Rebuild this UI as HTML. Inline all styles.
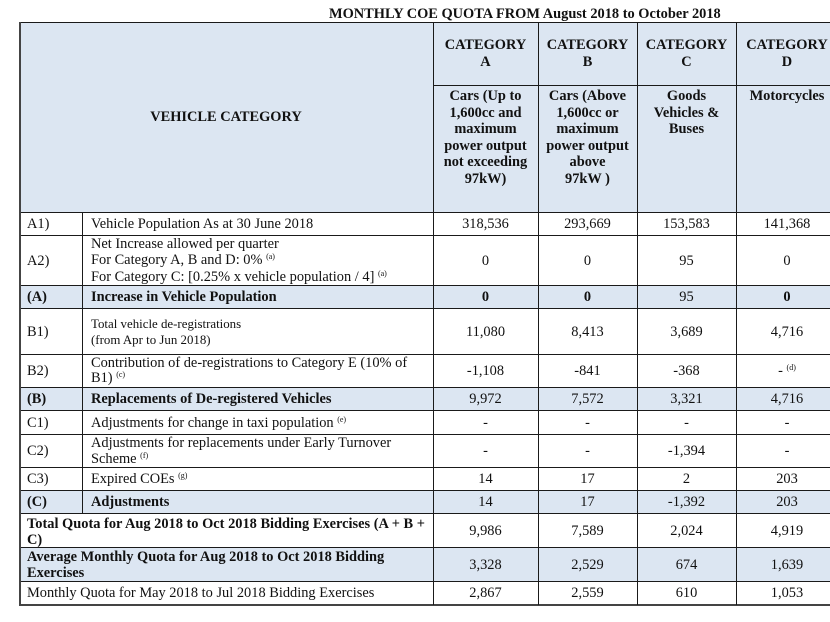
<!DOCTYPE html>
<html>
<head>
<meta charset="utf-8">
<style>
html,body{margin:0;padding:0;background:#fff;}
body{width:830px;height:622px;overflow:hidden;position:relative;font-family:"Liberation Serif","Times New Roman",serif;color:#111;}
.title{position:absolute;left:329px;top:6px;font-weight:bold;font-size:14.4px;line-height:16px;white-space:nowrap;}
.bg{position:absolute;left:19px;width:811px;background:#dce6f2;}
.h{position:absolute;height:1px;background:#1a1a1a;}
.vl{position:absolute;width:1px;background:#1a1a1a;}
.t{position:absolute;display:flex;align-items:center;font-size:14.4px;line-height:16px;box-sizing:border-box;white-space:nowrap;}
.t > div{display:block;}
.c{justify-content:center;text-align:center;}
.lab{padding-left:8px;}
.dsc{padding-left:9px;}
.b{font-weight:bold;}
sup{font-size:8px;line-height:0;vertical-align:5px;}
.hd{align-items:flex-start;padding-top:3px;line-height:16.5px;font-weight:bold;}
</style>
</head>
<body>
<div class="title">MONTHLY COE QUOTA FROM August 2018 to October 2018</div>

<!-- shaded backgrounds -->
<div class="bg" style="top:22px;height:191px;"></div>
<div class="bg" style="top:285px;height:23px;"></div>
<div class="bg" style="top:387px;height:23px;"></div>
<div class="bg" style="top:490px;height:23px;"></div>
<div class="bg" style="top:547px;height:34px;"></div>

<!-- horizontal lines -->
<div class="h" style="left:19px;width:811px;top:22px;"></div>
<div class="h" style="left:433px;width:397px;top:85px;"></div>
<div class="h" style="left:19px;width:811px;top:212px;"></div>
<div class="h" style="left:19px;width:811px;top:235px;"></div>
<div class="h" style="left:19px;width:811px;top:285px;"></div>
<div class="h" style="left:19px;width:811px;top:308px;"></div>
<div class="h" style="left:19px;width:811px;top:354px;"></div>
<div class="h" style="left:19px;width:811px;top:387px;"></div>
<div class="h" style="left:19px;width:811px;top:410px;"></div>
<div class="h" style="left:19px;width:811px;top:434px;"></div>
<div class="h" style="left:19px;width:811px;top:467px;"></div>
<div class="h" style="left:19px;width:811px;top:490px;"></div>
<div class="h" style="left:19px;width:811px;top:513px;"></div>
<div class="h" style="left:19px;width:811px;top:547px;"></div>
<div class="h" style="left:19px;width:811px;top:581px;"></div>
<div class="h" style="left:19px;width:811px;top:604px;height:2px;background:#444;"></div>

<!-- vertical lines -->
<div class="vl" style="left:19px;top:22px;height:584px;width:2px;background:#444;"></div>
<div class="vl" style="left:82px;top:212px;height:301px;"></div>
<div class="vl" style="left:433px;top:22px;height:583px;"></div>
<div class="vl" style="left:538px;top:22px;height:583px;"></div>
<div class="vl" style="left:637px;top:22px;height:583px;"></div>
<div class="vl" style="left:736px;top:22px;height:583px;"></div>

<!-- header -->
<div class="t c b" style="left:19px;top:22px;width:414px;height:190px;"><div>VEHICLE CATEGORY</div></div>
<div class="t c b" style="left:433px;top:22px;width:105px;height:63px;line-height:16.5px;"><div>CATEGORY<br>A</div></div>
<div class="t c b" style="left:538px;top:22px;width:99px;height:63px;line-height:16.5px;"><div>CATEGORY<br>B</div></div>
<div class="t c b" style="left:637px;top:22px;width:99px;height:63px;line-height:16.5px;"><div>CATEGORY<br>C</div></div>
<div class="t c b" style="left:736px;top:22px;width:102px;height:63px;line-height:16.5px;"><div>CATEGORY<br>D</div></div>

<div class="t c hd" style="left:433px;top:85px;width:105px;height:127px;"><div>Cars (Up to<br>1,600cc and<br>maximum<br>power output<br>not exceeding<br>97kW)</div></div>
<div class="t c hd" style="left:538px;top:85px;width:99px;height:127px;"><div>Cars (Above<br>1,600cc or<br>maximum<br>power output<br>above<br>97kW )</div></div>
<div class="t c hd" style="left:637px;top:85px;width:99px;height:127px;"><div>Goods<br>Vehicles &amp;<br>Buses</div></div>
<div class="t c hd" style="left:736px;top:85px;width:102px;height:127px;"><div>Motorcycles</div></div>

<!-- A1 -->
<div class="t lab" style="left:19px;top:213px;width:63px;height:22px;"><div>A1)</div></div>
<div class="t dsc" style="left:82px;top:213px;width:351px;height:22px;"><div>Vehicle Population As at 30 June 2018</div></div>
<div class="t c" style="left:433px;top:213px;width:105px;height:22px;"><div>318,536</div></div>
<div class="t c" style="left:538px;top:213px;width:99px;height:22px;"><div>293,669</div></div>
<div class="t c" style="left:637px;top:213px;width:99px;height:22px;"><div>153,583</div></div>
<div class="t c" style="left:736px;top:213px;width:102px;height:22px;"><div>141,368</div></div>

<!-- A2 -->
<div class="t lab" style="left:19px;top:236px;width:63px;height:49px;"><div>A2)</div></div>
<div class="t dsc" style="left:82px;top:236px;width:351px;height:49px;line-height:16.5px;"><div>Net Increase allowed per quarter<br>For Category A, B and D: 0%&nbsp;<sup>(a)</sup><br>For Category C: [0.25% x vehicle population / 4]&nbsp;<sup>(a)</sup></div></div>
<div class="t c" style="left:433px;top:236px;width:105px;height:49px;"><div>0</div></div>
<div class="t c" style="left:538px;top:236px;width:99px;height:49px;"><div>0</div></div>
<div class="t c" style="left:637px;top:236px;width:99px;height:49px;"><div>95</div></div>
<div class="t c" style="left:736px;top:236px;width:102px;height:49px;"><div>0</div></div>

<!-- (A) -->
<div class="t lab b" style="left:19px;top:286px;width:63px;height:22px;"><div>(A)</div></div>
<div class="t dsc b" style="left:82px;top:286px;width:351px;height:22px;"><div>Increase in Vehicle Population</div></div>
<div class="t c b" style="left:433px;top:286px;width:105px;height:22px;"><div>0</div></div>
<div class="t c b" style="left:538px;top:286px;width:99px;height:22px;"><div>0</div></div>
<div class="t c" style="left:637px;top:286px;width:99px;height:22px;"><div>95</div></div>
<div class="t c b" style="left:736px;top:286px;width:102px;height:22px;"><div>0</div></div>

<!-- B1 -->
<div class="t lab" style="left:19px;top:309px;width:63px;height:45px;"><div>B1)</div></div>
<div class="t dsc" style="left:82px;top:309px;width:351px;height:45px;font-size:12.9px;line-height:16px;"><div>Total vehicle de-registrations<br>(from Apr to Jun 2018)</div></div>
<div class="t c" style="left:433px;top:309px;width:105px;height:45px;"><div>11,080</div></div>
<div class="t c" style="left:538px;top:309px;width:99px;height:45px;"><div>8,413</div></div>
<div class="t c" style="left:637px;top:309px;width:99px;height:45px;"><div>3,689</div></div>
<div class="t c" style="left:736px;top:309px;width:102px;height:45px;"><div>4,716</div></div>

<!-- B2 -->
<div class="t lab" style="left:19px;top:355px;width:63px;height:32px;"><div>B2)</div></div>
<div class="t dsc" style="left:82px;top:355px;width:351px;height:32px;line-height:15.5px;"><div>Contribution of de-registrations to Category E (10% of<br>B1)&nbsp;<sup>(c)</sup></div></div>
<div class="t c" style="left:433px;top:355px;width:105px;height:32px;"><div>-1,108</div></div>
<div class="t c" style="left:538px;top:355px;width:99px;height:32px;"><div>-841</div></div>
<div class="t c" style="left:637px;top:355px;width:99px;height:32px;"><div>-368</div></div>
<div class="t c" style="left:736px;top:355px;width:102px;height:32px;"><div>-&nbsp;<sup>(d)</sup></div></div>

<!-- (B) -->
<div class="t lab b" style="left:19px;top:388px;width:63px;height:22px;"><div>(B)</div></div>
<div class="t dsc b" style="left:82px;top:388px;width:351px;height:22px;"><div>Replacements of De-registered Vehicles</div></div>
<div class="t c" style="left:433px;top:388px;width:105px;height:22px;"><div>9,972</div></div>
<div class="t c" style="left:538px;top:388px;width:99px;height:22px;"><div>7,572</div></div>
<div class="t c" style="left:637px;top:388px;width:99px;height:22px;"><div>3,321</div></div>
<div class="t c" style="left:736px;top:388px;width:102px;height:22px;"><div>4,716</div></div>

<!-- C1 -->
<div class="t lab" style="left:19px;top:411px;width:63px;height:23px;"><div>C1)</div></div>
<div class="t dsc" style="left:82px;top:411px;width:351px;height:23px;"><div>Adjustments for change in taxi population&nbsp;<sup>(e)</sup></div></div>
<div class="t c" style="left:433px;top:411px;width:105px;height:23px;"><div>-</div></div>
<div class="t c" style="left:538px;top:411px;width:99px;height:23px;"><div>-</div></div>
<div class="t c" style="left:637px;top:411px;width:99px;height:23px;"><div>-</div></div>
<div class="t c" style="left:736px;top:411px;width:102px;height:23px;"><div>-</div></div>

<!-- C2 -->
<div class="t lab" style="left:19px;top:435px;width:63px;height:32px;"><div>C2)</div></div>
<div class="t dsc" style="left:82px;top:435px;width:351px;height:32px;"><div>Adjustments for replacements under Early Turnover<br>Scheme&nbsp;<sup>(f)</sup></div></div>
<div class="t c" style="left:433px;top:435px;width:105px;height:32px;"><div>-</div></div>
<div class="t c" style="left:538px;top:435px;width:99px;height:32px;"><div>-</div></div>
<div class="t c" style="left:637px;top:435px;width:99px;height:32px;"><div>-1,394</div></div>
<div class="t c" style="left:736px;top:435px;width:102px;height:32px;"><div>-</div></div>

<!-- C3 -->
<div class="t lab" style="left:19px;top:468px;width:63px;height:22px;"><div>C3)</div></div>
<div class="t dsc" style="left:82px;top:468px;width:351px;height:22px;"><div>Expired COEs&nbsp;<sup>(g)</sup></div></div>
<div class="t c" style="left:433px;top:468px;width:105px;height:22px;"><div>14</div></div>
<div class="t c" style="left:538px;top:468px;width:99px;height:22px;"><div>17</div></div>
<div class="t c" style="left:637px;top:468px;width:99px;height:22px;"><div>2</div></div>
<div class="t c" style="left:736px;top:468px;width:102px;height:22px;"><div>203</div></div>

<!-- (C) -->
<div class="t lab b" style="left:19px;top:491px;width:63px;height:22px;"><div>(C)</div></div>
<div class="t dsc b" style="left:82px;top:491px;width:351px;height:22px;"><div>Adjustments</div></div>
<div class="t c" style="left:433px;top:491px;width:105px;height:22px;"><div>14</div></div>
<div class="t c" style="left:538px;top:491px;width:99px;height:22px;"><div>17</div></div>
<div class="t c" style="left:637px;top:491px;width:99px;height:22px;"><div>-1,392</div></div>
<div class="t c" style="left:736px;top:491px;width:102px;height:22px;"><div>203</div></div>

<!-- Total -->
<div class="t lab b" style="left:19px;top:514px;width:414px;height:33px;padding-top:2px;"><div>Total Quota for Aug 2018 to Oct 2018 Bidding Exercises (A + B +<br>C)</div></div>
<div class="t c" style="left:433px;top:514px;width:105px;height:33px;"><div>9,986</div></div>
<div class="t c" style="left:538px;top:514px;width:99px;height:33px;"><div>7,589</div></div>
<div class="t c" style="left:637px;top:514px;width:99px;height:33px;"><div>2,024</div></div>
<div class="t c" style="left:736px;top:514px;width:102px;height:33px;"><div>4,919</div></div>

<!-- Avg -->
<div class="t lab b" style="left:19px;top:548px;width:414px;height:33px;"><div>Average Monthly Quota for Aug 2018 to Oct 2018 Bidding<br>Exercises</div></div>
<div class="t c" style="left:433px;top:548px;width:105px;height:33px;"><div>3,328</div></div>
<div class="t c" style="left:538px;top:548px;width:99px;height:33px;"><div>2,529</div></div>
<div class="t c" style="left:637px;top:548px;width:99px;height:33px;"><div>674</div></div>
<div class="t c" style="left:736px;top:548px;width:102px;height:33px;"><div>1,639</div></div>

<!-- Monthly -->
<div class="t lab" style="left:19px;top:582px;width:414px;height:22px;"><div>Monthly Quota for May 2018 to Jul 2018 Bidding Exercises</div></div>
<div class="t c" style="left:433px;top:582px;width:105px;height:22px;"><div>2,867</div></div>
<div class="t c" style="left:538px;top:582px;width:99px;height:22px;"><div>2,559</div></div>
<div class="t c" style="left:637px;top:582px;width:99px;height:22px;"><div>610</div></div>
<div class="t c" style="left:736px;top:582px;width:102px;height:22px;"><div>1,053</div></div>
</body>
</html>
